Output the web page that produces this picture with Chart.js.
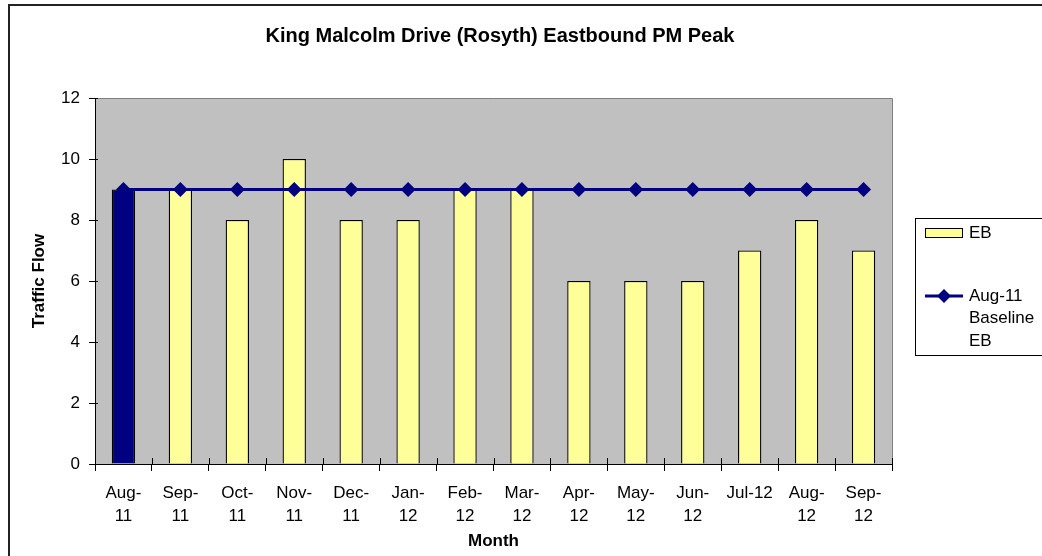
<!DOCTYPE html>
<html>
<head>
<meta charset="utf-8">
<script src="https://cdn.jsdelivr.net/npm/chart.js@4/dist/chart.umd.min.js"></script>
<style>
  html, body { margin: 0; padding: 0; background: #fff; }
  #wrap { position: relative; width: 1042px; height: 556px; }
</style>
</head>
<body>
<div id="wrap"><canvas id="chart" width="1042" height="556"></canvas></div>
<script>
// Data
const months = [
    ["Aug-", "11"], ["Sep-", "11"], ["Oct-", "11"], ["Nov-", "11"], ["Dec-", "11"],
    ["Jan-", "12"], ["Feb-", "12"], ["Mar-", "12"], ["Apr-", "12"], ["May-", "12"],
    ["Jun-", "12"], "Jul-12", ["Aug-", "12"], ["Sep-", "12"]
];
const ebFlow = [9, 9, 8, 10, 8, 8, 9, 9, 6, 6, 6, 7, 8, 7];
const baselineEB = [9, 9, 9, 9, 9, 9, 9, 9, 9, 9, 9, 9, 9, 9];
const yTicks = [0, 2, 4, 6, 8, 10, 12];

const NAVY = '#000080';
const YELLOW = '#FFFF99';
const FONT = 'Liberation Sans, Arial, sans-serif';

// Gray plot area and the chart frame
const plotBackground = {
    id: 'plotBackground',
    beforeDraw(chart) {
        const { ctx, chartArea: a } = chart;
        ctx.save();
        ctx.fillStyle = '#C0C0C0';
        ctx.fillRect(a.left, a.top, a.right - a.left, a.bottom - a.top);
        ctx.strokeStyle = '#808080';
        ctx.lineWidth = 1;
        ctx.beginPath();
        ctx.moveTo(a.left, a.top + 0.5);
        ctx.lineTo(a.right + 0.5, a.top + 0.5);
        ctx.lineTo(a.right + 0.5, a.bottom);
        ctx.stroke();
        // outer frame (only left and top visible in the picture)
        ctx.strokeStyle = '#222';
        ctx.lineWidth = 2;
        ctx.beginPath();
        ctx.moveTo(9, 556);
        ctx.lineTo(9, 5);
        ctx.lineTo(1042, 5);
        ctx.stroke();
        ctx.restore();
    }
};

// tick marks that cross the axis lines, as Excel draws them
const crossTicks = {
    id: 'crossTicks',
    afterDraw(chart) {
        const { ctx, chartArea: a, scales } = chart;
        const x = scales.x, y = scales.y;
        const step = (a.right - a.left) / months.length;
        ctx.save();
        ctx.strokeStyle = '#000';
        ctx.lineWidth = 1;
        ctx.beginPath();
        for (let i = 0; i <= months.length; i++) {
            const px = Math.round(a.left + i * step) + 0.5;
            ctx.moveTo(px, a.bottom);
            ctx.lineTo(px, a.bottom - 6);
        }
        yTicks.forEach(v => {
            const py = Math.round(y.getPixelForValue(v)) + 0.5;
            ctx.moveTo(a.left, py);
            ctx.lineTo(a.left + 3, py);
        });
        ctx.stroke();
        ctx.restore();
    }
};

// Legend box on the right, Excel style
const boxLegend = {
    id: 'boxLegend',
    afterDraw(chart) {
        const { ctx } = chart;
        const sets = chart.data.datasets;
        const bx = 915.5, by = 218.5;
        ctx.save();
        ctx.strokeStyle = '#000';
        ctx.lineWidth = 1;
        ctx.fillStyle = '#fff';
        ctx.fillRect(bx, by, 140, 137);
        ctx.strokeRect(bx, by, 140, 137);

        // bar entry
        ctx.fillStyle = YELLOW;
        ctx.fillRect(925.5, 228.5, 37, 9);
        ctx.strokeRect(925.5, 228.5, 37, 9);
        ctx.fillStyle = '#000';
        ctx.font = '17px ' + FONT;
        ctx.textBaseline = 'middle';
        ctx.fillText(sets[1].label, 969, 233);

        // line entry
        ctx.strokeStyle = NAVY;
        ctx.lineWidth = 3;
        ctx.beginPath();
        ctx.moveTo(925, 296);
        ctx.lineTo(963, 296);
        ctx.stroke();
        ctx.fillStyle = NAVY;
        ctx.beginPath();
        ctx.moveTo(944, 289);
        ctx.lineTo(951, 296);
        ctx.lineTo(944, 303);
        ctx.lineTo(937, 296);
        ctx.closePath();
        ctx.fill();
        ctx.fillStyle = '#000';
        const lines = sets[0].label.split('\n');
        lines.forEach((t, i) => ctx.fillText(t, 969, 296 + i * 22.5));
        ctx.restore();
    }
};

const ctx = document.getElementById('chart').getContext('2d');

new Chart(ctx, {
    data: {
        labels: months,
        datasets: [
            {
                type: 'line',
                label: 'Aug-11\nBaseline\nEB',
                data: baselineEB,
                borderColor: NAVY,
                backgroundColor: NAVY,
                borderWidth: 3,
                pointStyle: 'rectRot',
                pointRadius: 7.5,
                pointBorderWidth: 0,
                tension: 0,
                order: 0
            },
            {
                type: 'bar',
                label: 'EB',
                data: ebFlow,
                backgroundColor: ebFlow.map((v, i) => i === 0 ? NAVY : YELLOW),
                borderColor: '#000',
                borderWidth: 1.3,
                categoryPercentage: 1,
                barPercentage: 0.41,
                order: 1
            }
        ]
    },
    options: {
        responsive: false,
        animation: false,
        layout: { padding: { left: 0, right: 42, top: 0, bottom: 0 } },
        plugins: {
            legend: { display: false },
            tooltip: { enabled: false },
            title: {
                display: true,
                text: 'King Malcolm Drive (Rosyth) Eastbound PM Peak',
                color: '#000',
                font: { family: FONT, size: 20, weight: 'bold' },
                padding: { top: 24, bottom: 50 }
            }
        },
        scales: {
            x: {
                offset: true,
                border: { color: '#000', width: 1 },
                grid: {
                    offset: true,
                    drawOnChartArea: false,
                    color: '#000',
                    tickLength: 7
                },
                ticks: {
                    color: '#000',
                    font: { family: FONT, size: 17, lineHeight: 1.35 },
                    padding: 11,
                    maxRotation: 0,
                    autoSkip: false
                },
                title: {
                    display: true,
                    text: 'Month',
                    color: '#000',
                    font: { family: FONT, size: 17, weight: 'bold' },
                    padding: { top: 0, bottom: 4 }
                },
                afterFit(scale) { scale.height = 92; }
            },
            y: {
                min: 0,
                max: 12,
                afterBuildTicks(scale) { scale.ticks = yTicks.map(v => ({ value: v })); },
                border: { color: '#000', width: 1 },
                grid: {
                    drawOnChartArea: false,
                    color: '#000',
                    tickLength: 6
                },
                ticks: {
                    color: '#000',
                    font: { family: FONT, size: 17 },
                    padding: 9
                },
                title: {
                    display: true,
                    text: 'Traffic Flow',
                    color: '#000',
                    font: { family: FONT, size: 17, weight: 'bold' },
                    padding: { top: 29, bottom: 0 }
                },
                afterFit(scale) { scale.width = 95; }
            },
            // empty right-hand axis: keeps room for the legend box so the title centres like the original
            yRight: {
                position: 'right',
                display: true,
                min: 0,
                max: 12,
                border: { display: false },
                grid: { display: false },
                ticks: { display: false },
                afterFit(scale) { scale.width = 108; }
            }
        }
    },
    plugins: [plotBackground, crossTicks, boxLegend]
});
</script>
</body>
</html>
